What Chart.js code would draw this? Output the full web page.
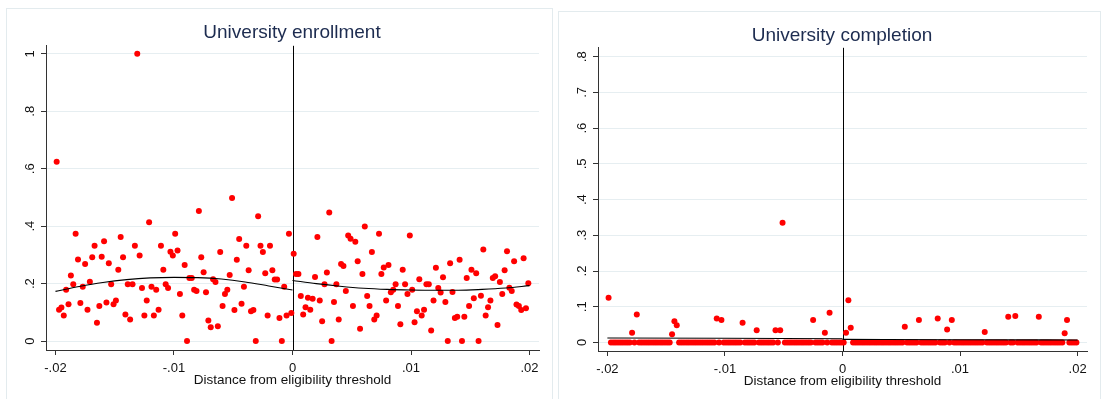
<!DOCTYPE html>
<html>
<head>
<meta charset="utf-8">
<script src="https://cdn.jsdelivr.net/npm/chart.js@4.4.0/dist/chart.umd.min.js"></script>
<style>
html, body { margin: 0; padding: 0; background: #fff; overflow: hidden; }
.panel { position: absolute; box-sizing: border-box; border: 1px solid #e3ebee; background: #fff; }
canvas { display: block; }
</style>
</head>
<body>
<div class="panel" style="left:6px;top:8px;width:547px;height:392px"><canvas id="enroll" width="545" height="390"></canvas></div>
<div class="panel" style="left:558px;top:11px;width:543px;height:392px"><canvas id="complete" width="541" height="390"></canvas></div>
<script>
// bin midpoints (distance from threshold)
var binLeft = [
  -.0199, -.0197, -.0195, -.0193, -.0191, -.0189, -.0187, -.0185, -.0183, -.0181,
  -.0179, -.0177, -.0175, -.0173, -.0171, -.0169, -.0167, -.0165, -.0163, -.0161,
  -.0159, -.0157, -.0155, -.0153, -.0151, -.0149, -.0147, -.0145, -.0143, -.0141,
  -.0139, -.0137, -.0135, -.0133, -.0131, -.0129, -.0127, -.0125, -.0123, -.0121,
  -.0119, -.0117, -.0115, -.0113, -.0111, -.0109, -.0107, -.0105, -.0103, -.0101,
  -.0099, -.0097, -.0095, -.0093, -.0091, -.0089, -.0087, -.0085, -.0083, -.0081,
  -.0079, -.0077, -.0075, -.0073, -.0071, -.0069, -.0067, -.0065, -.0063, -.0061,
  -.0059, -.0057, -.0055, -.0053, -.0051, -.0049, -.0047, -.0045, -.0043, -.0041,
  -.0039, -.0037, -.0035, -.0033, -.0031, -.0029, -.0027, -.0025, -.0023, -.0021,
  -.0019, -.0017, -.0015, -.0013, -.0011, -.0009, -.0007, -.0005, -.0003, -.0001
];
var binRight = [
  .0001, .0003, .0005, .0007, .0009, .0011, .0013, .0015, .0017, .0019,
  .0021, .0023, .0025, .0027, .0029, .0031, .0033, .0035, .0037, .0039,
  .0041, .0043, .0045, .0047, .0049, .0051, .0053, .0055, .0057, .0059,
  .0061, .0063, .0065, .0067, .0069, .0071, .0073, .0075, .0077, .0079,
  .0081, .0083, .0085, .0087, .0089, .0091, .0093, .0095, .0097, .0099,
  .0101, .0103, .0105, .0107, .0109, .0111, .0113, .0115, .0117, .0119,
  .0121, .0123, .0125, .0127, .0129, .0131, .0133, .0135, .0137, .0139,
  .0141, .0143, .0145, .0147, .0149, .0151, .0153, .0155, .0157, .0159,
  .0161, .0163, .0165, .0167, .0169, .0171, .0173, .0175, .0177, .0179,
  .0181, .0183, .0185, .0187, .0189, .0191, .0193, .0195, .0197, .0199
];

// University enrollment, bin means
var enrollLeft = [
  .624, .109, .117, .089, .179, .128, .228, .198, .374, .284,
  .133, .189, .268, .109, .207, .292, .332, .064, .122, .294,
  .348, .134, .271, .198, .128, .141, .248, .362, .292, .093,
  .198, .075, .198, .332, 1.0, .298, .185, .089, .141, .414,
  .189, .089, .179, .109, .332, .248, .198, .185, .311, .298,
  .374, .315, .164, .089, .265, 0, .220, .220, .179, .174,
  .453, .292, .240, .170, .072, .048, .215, .206, .052, .310,
  .122, .164, .179, .230, .498, .108, .283, .355, .130, .189,
  .332, .247, .104, .108, 0, .435, .332, .310, .236, .089,
  .332, .247, .214, .214, .080, 0, .189, .089, .374, .098
];
var enrollRight = [
  .304, .234, .234, .157, .093, .118, .151, .109, .147, .223,
  .362, .141, .069, .198, .239, .448, 0, .136, .198, .075,
  .268, .261, .174, .368, .356, .122, .346, .278, .043, .234,
  .399, .157, .122, .310, .075, .089, .374, .234, .256, .141,
  .265, .170, .179, .198, .122, .059, .248, .198, .164, .368,
  .179, .066, .104, .215, .089, .109, .198, .198, .037, .141,
  .255, .185, .169, .222, .136, 0, .271, .171, .080, .085,
  .283, 0, .085, .220, .122, .248, .149, .236, 0, .158,
  .319, .089, .118, .141, .220, .226, .056, .206, .164, .247,
  .313, .186, .174, .278, .127, .122, .108, .288, .114, .201
];

// University completion, bin means
var completeLeft = [
  .125, 0, 0, 0, 0, 0, 0, 0, 0, 0,
  .027, 0, .078, 0, 0, 0, 0, 0, 0, 0,
  0, 0, 0, 0, 0, 0, 0, .023, .059, .048,
  0, 0, 0, 0, 0, 0, 0, 0, 0, 0,
  0, 0, 0, 0, 0, 0, .067, 0, .063, 0,
  0, 0, 0, 0, 0, 0, 0, .055, 0, 0,
  0, 0, 0, .034, 0, 0, 0, 0, 0, 0,
  0, .034, 0, .034, .335, 0, 0, 0, 0, 0,
  0, 0, 0, 0, 0, 0, 0, .063, 0, 0,
  0, 0, .027, 0, .083, 0, 0, 0, 0, 0
];
var completeRight = [
  0, .027, .118, .041, 0, 0, 0, 0, 0, 0,
  0, 0, 0, 0, 0, 0, 0, 0, 0, 0,
  0, 0, 0, 0, 0, 0, .044, 0, 0, 0,
  0, 0, .063, 0, 0, 0, 0, 0, 0, 0,
  .067, 0, 0, 0, .036, 0, .063, 0, 0, 0,
  0, 0, 0, 0, 0, 0, 0, 0, 0, 0,
  .029, 0, 0, 0, 0, 0, 0, 0, 0, 0,
  .072, 0, 0, .074, 0, 0, 0, 0, 0, 0,
  0, 0, 0, .072, 0, 0, 0, 0, 0, 0,
  0, 0, 0, 0, .026, .063, 0, 0, 0, 0
];

// fitted curves
var enrollFitLeftX = [-.02, -.018, -.016, -.014, -.012, -.01, -.008, -.006, -.004, -.002, 0];
var enrollFitLeftY = [.173, .190, .204, .214, .220, .222, .221, .216, .206, .192, .178];
var enrollFitRightX = [0, .002, .004, .006, .008, .01, .012, .014, .016, .018, .02];
var enrollFitRightY = [.211, .200, .191, .184, .180, .178, .177, .177, .180, .185, .193];
var completeFitLeftX = [-.02, -.01, 0];
var completeFitLeftY = [.0125, .0115, .0105];
var completeFitRightX = [0, .01, .02];
var completeFitRightY = [.0085, .0075, .007];

var xTicks = [-.02, -.01, 0, .01, .02];
var xTickLabels = ['-.02', '-.01', '0', '.01', '.02'];
var enrollYTicks = [0, .2, .4, .6, .8, 1];
var enrollYLabels = ['0', '.2', '.4', '.6', '.8', '1'];
var completeYTicks = [0, .1, .2, .3, .4, .5, .6, .7, .8];
var completeYLabels = ['0', '.1', '.2', '.3', '.4', '.5', '.6', '.7', '.8'];
var threshold = 0;

var FONT = '"Liberation Sans", Arial, sans-serif';

function pts(xs, ys) {
  return xs.map(function (x, i) { return { x: x, y: ys[i] }; });
}

// rotated y tick labels + cutoff line
var stataBits = {
  id: 'stataBits',
  beforeDatasetsDraw: function (chart) {
    var ctx = chart.ctx, a = chart.chartArea;
    var x = Math.round(chart.scales.x.getPixelForValue(threshold)) + 0.5;
    ctx.save();
    ctx.strokeStyle = '#000';
    ctx.lineWidth = 1;
    ctx.beginPath();
    ctx.moveTo(x, a.top);
    ctx.lineTo(x, a.bottom);
    ctx.stroke();
    ctx.restore();
  },
  afterDraw: function (chart, args, o) {
    var ctx = chart.ctx, s = chart.scales.y;
    ctx.save();
    ctx.fillStyle = '#111';
    ctx.font = '13px ' + FONT;
    ctx.textAlign = 'center';
    ctx.textBaseline = 'middle';
    o.ticks.forEach(function (v, i) {
      ctx.save();
      ctx.translate(chart.chartArea.left - 16, s.getPixelForValue(v));
      ctx.rotate(-Math.PI / 2);
      ctx.fillText(o.labels[i], 0, 0);
      ctx.restore();
    });
    ctx.restore();
  }
};

function panel(id, title, sL, sR, fL, fR, yMin, yMax, yTicks, yLabels, pad, titleGap) {
  var dot = { pointRadius: 3, pointBackgroundColor: '#ff0000', pointBorderWidth: 0, showLine: false };
  var fit = { type: 'line', borderColor: '#000', borderWidth: 1.1, pointRadius: 0, tension: 0.4, cubicInterpolationMode: 'monotone', fill: false };
  return new Chart(document.getElementById(id), {
    type: 'scatter',
    data: {
      datasets: [
        Object.assign({ data: fL }, fit),
        Object.assign({ data: fR }, fit),
        Object.assign({ data: sL }, dot),
        Object.assign({ data: sR }, dot)
      ]
    },
    options: {
      responsive: false,
      animation: false,
      devicePixelRatio: 1,
      layout: { padding: pad },
      plugins: {
        legend: { display: false },
        tooltip: { enabled: false },
        title: {
          display: true,
          text: title,
          color: '#1d2c50',
          font: { family: FONT, size: 19, weight: 'normal' },
          padding: { top: 0, bottom: titleGap }
        },
        stataBits: { ticks: yTicks, labels: yLabels }
      },
      scales: {
        x: {
          type: 'linear',
          min: -.0208,
          max: .0208,
          afterBuildTicks: function (s) { s.ticks = xTicks.map(function (v) { return { value: v }; }); },
          afterFit: function (s) { s.height = 40; },
          ticks: {
            color: '#111',
            font: { family: FONT, size: 13 },
            padding: 6,
            maxRotation: 0,
            autoSkip: false,
            callback: function (v) { return xTickLabels[xTicks.indexOf(v)]; }
          },
          grid: { drawOnChartArea: false, tickLength: 5, tickColor: '#333' },
          border: { color: '#333', width: 1 },
          title: {
            display: true,
            text: 'Distance from eligibility threshold',
            color: '#111',
            font: { family: FONT, size: 13.5 },
            padding: { top: 0, bottom: 2 }
          }
        },
        y: {
          type: 'linear',
          min: yMin,
          max: yMax,
          afterBuildTicks: function (s) { s.ticks = yTicks.map(function (v) { return { value: v }; }); },
          afterFit: function (s) { s.width = 1; },
          ticks: { display: false },
          grid: { color: '#e6eef1', tickLength: 5, tickColor: '#333' },
          border: { color: '#333', width: 1 }
        }
      }
    },
    plugins: [stataBits]
  });
}

panel('enroll', 'University enrollment',
  pts(binLeft, enrollLeft), pts(binRight, enrollRight),
  pts(enrollFitLeftX, enrollFitLeftY), pts(enrollFitRightX, enrollFitRightY),
  -.031, 1.028, enrollYTicks, enrollYLabels,
  { left: 38, right: 13, top: 12, bottom: 9 }, 2);

panel('complete', 'University completion',
  pts(binLeft, completeLeft), pts(binRight, completeRight),
  pts(completeFitLeftX, completeFitLeftY), pts(completeFitRightX, completeFitRightY),
  -.024, .825, completeYTicks, completeYLabels,
  { left: 38, right: 13, top: 12, bottom: 11 }, 1);
</script>
</body>
</html>
